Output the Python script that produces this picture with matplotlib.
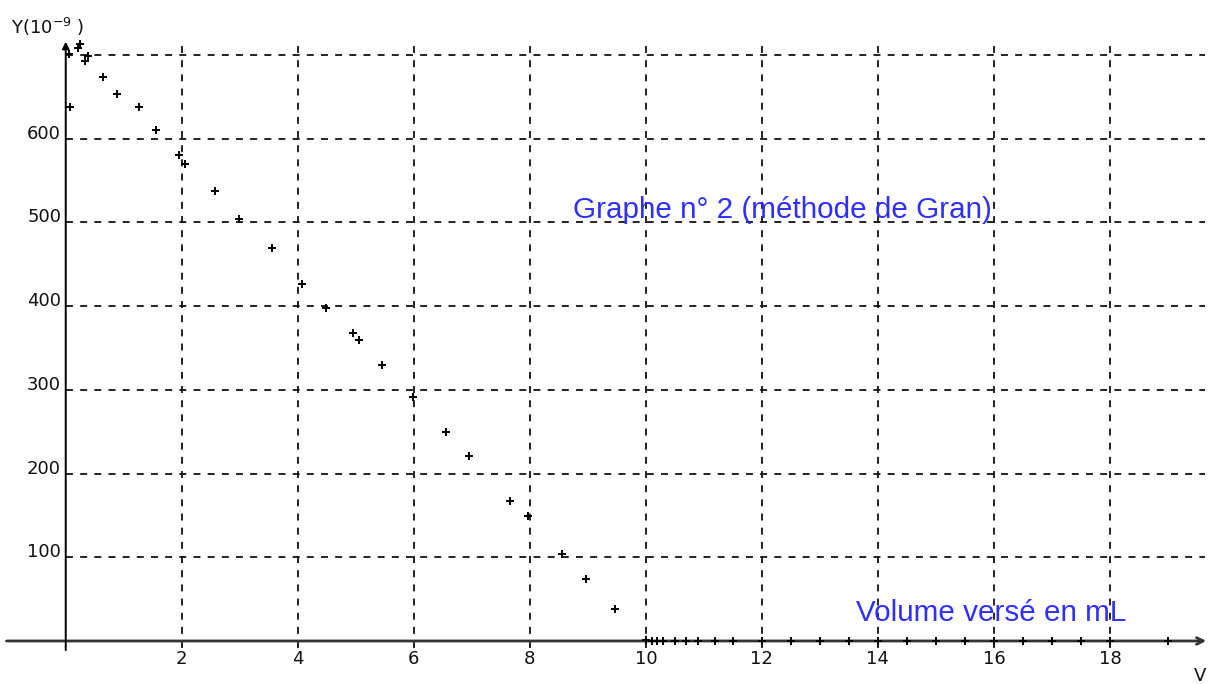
import matplotlib
matplotlib.use("Agg")
import matplotlib.pyplot as plt

# ---- data ----
volume = [0.06, 0.07, 0.22, 0.25, 0.33, 0.38, 0.65, 0.88, 1.27, 1.56,
          1.96, 2.06, 2.58, 2.98, 3.56, 4.08, 4.48, 4.96, 5.06, 5.45,
          5.98, 6.56, 6.95, 7.66, 7.97, 8.55, 8.97, 9.46,
          10.0, 10.1, 10.2, 10.3, 10.5, 10.7, 10.9, 11.2, 11.5, 12.0,
          12.5, 13.0, 13.5, 14.0, 14.5, 15.0, 15.5, 16.0, 16.5, 17.0,
          17.5, 18.0, 19.0]
gran_y = [701, 638, 709, 713, 693, 699, 674, 654, 638, 610,
          581, 570, 538, 504, 470, 427, 398, 368, 359, 330,
          291, 250, 221, 167, 149, 104, 74, 38,
          1, 0, 0, 0, 0, 0, 0, 0, 0, 0,
          0, 0, 0, 0, 0, 0, 0, 0, 0, 0,
          0, 0, 0]
x_ticks = [2, 4, 6, 8, 10, 12, 14, 16, 18]
y_ticks = [100, 200, 300, 400, 500, 600]
y_grid = [100, 200, 300, 400, 500, 600, 700]
title_text = "Graphe n° 2 (méthode de Gran)"
xlabel_text = "Volume versé en mL"
ylabel_text = r"Y(10$^{-9}$ )"

plt.rcParams['lines.scale_dashes'] = False
fig = plt.figure(figsize=(12.08, 6.84), dpi=100)
ax = fig.add_axes([0, 0, 1, 1])
ax.set_xlim(-1.133, 19.69)
ax.set_ylim(-51.4, 765.8)
ax.axis('off')

dash = (0, (5.0, 5.2))
gc = '#111111'
ax.vlines(x_ticks, -8.5, 712, colors=gc, linewidth=1.3, linestyles=[dash])
ax.hlines(y_grid, 0, 19.64, colors=gc, linewidth=1.3, linestyles=[dash])

# axes with arrows
ax.annotate('', xy=(19.66, 0), xytext=(-1.02, 0),
            arrowprops=dict(arrowstyle='->', lw=2.0, color='#333333',
                            mutation_scale=12, shrinkA=0, shrinkB=0))
ax.annotate('', xy=(0, 716), xytext=(0, -11),
            arrowprops=dict(arrowstyle='-|>', lw=1.4, color='black',
                            mutation_scale=10, shrinkA=0, shrinkB=0))

# data points
ax.plot(volume, gran_y, linestyle='none', marker='+', color='black',
        markersize=6, markeredgewidth=1.4, zorder=5)

# tick labels
for t in x_ticks:
    ax.text(t, -21, str(t), ha='center', va='center',
            fontsize=13, family='DejaVu Sans', color='#111111')
for t in y_ticks:
    ax.text(-0.08, t + 6, str(t), ha='right', va='center',
            fontsize=13, family='DejaVu Sans', color='#111111')

ax.text(-0.94, 725, ylabel_text, ha='left', va='baseline',
        fontsize=13, family='DejaVu Sans', color='#111111')
ax.text(19.45, -31, "V", ha='left', va='top',
        fontsize=13, family='DejaVu Sans', color='#111111')

ax.text(8.75, 505, title_text, ha='left', va='baseline',
        fontsize=21.3, family='Liberation Sans', color='#2f2fff')
ax.text(13.62, 24, xlabel_text, ha='left', va='baseline',
        fontsize=21.3, family='Liberation Sans', color='#2f2fff')

fig.savefig('out.png', dpi=100)
